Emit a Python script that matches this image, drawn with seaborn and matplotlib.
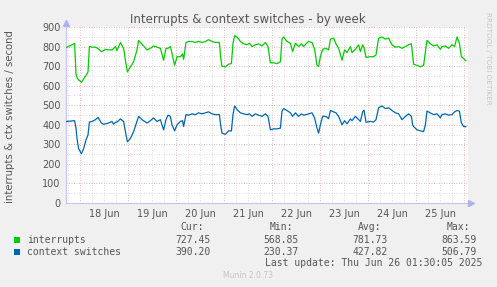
import numpy as np
import pandas as pd
import matplotlib
matplotlib.use("Agg")
import matplotlib.pyplot as plt
from matplotlib.patches import Rectangle
import seaborn as sns

# ---- data (hours offset from 2025-06-18 00:00) ----
hours = [-6.8, -2.7, -2.0, -1.5, -0.7, 0.7, 1.8, 3.0, 4.0, 4.7, 6.0, 7.7, 9.0, 10.7, 11.8, 12.7,
         14.3, 16.0, 16.8, 17.7, 18.5, 20.2, 21.8, 22.7, 23.7, 25.2, 26.8, 28.5, 29.3, 31.0, 33.5,
         35.2, 36.8, 38.5, 40.2, 41.8, 43.0,
         44.0, 45.2, 46.0, 47.3, 48.5, 50.2, 51.3, 51.8, 53.0, 54.3, 56.0, 57.7, 59.3, 61.0, 62.7,
         64.3, 66.0, 67.7, 69.7, 70.3, 71.0, 72.7, 74.3, 75.7, 76.5, 77.3, 78.5, 80.2, 81.8, 83.5,
         84.7, 86.0, 87.7, 89.3, 91.0, 92.7,
         94.0, 95.2, 96.8, 98.5, 100.2, 101.0, 101.8, 103.5, 105.2, 106.3, 107.7, 109.3, 110.7,
         111.8, 113.0, 114.3, 116.0, 117.3, 118.5, 119.3, 120.2, 121.3, 123.0, 124.3, 125.2, 126.8,
         128.0, 129.3, 131.0, 132.3, 133.5, 135.2, 136.0, 137.7, 139.3, 140.2, 141.3, 142.0,
         143.0, 145.2, 146.8, 148.0, 149.3, 151.0, 152.7, 154.3, 156.0, 157.7, 159.3, 161.0, 162.7,
         164.3, 165.7, 166.3, 166.8, 168.5, 170.2, 171.8, 172.7, 173.5, 175.2, 176.8, 178.5, 180.2,
         181.0, 182.7, 184.3, 186.0, 187.3, 188.5, 189.7, 190.7, 191.8, 193.0]

interrupts = [795, 816, 661, 640, 630, 617, 635, 652, 670, 800, 797, 797, 790, 774, 779, 786,
              783, 783, 790, 800, 779, 821, 791, 730, 670, 696, 722, 783, 831, 812, 783,
              791, 803, 797, 791, 730, 791,
              791, 800, 765, 704, 748, 748, 762, 734, 821, 826, 826, 821, 826, 821, 826,
              835, 826, 821, 821, 748, 699, 696, 710, 713, 817, 856, 849, 826, 814, 809,
              817, 800, 809, 814, 803, 821,
              800, 717, 717, 713, 722, 838, 849, 826, 817, 774, 817, 800, 814,
              800, 814, 826, 821, 786, 704, 699, 748, 786, 791, 783, 838, 843,
              814, 791, 730, 783, 769, 800, 769, 786, 809, 774, 809, 795,
              745, 748, 748, 757, 843, 849, 838, 843, 809, 797, 800, 791, 800,
              809, 814, 757, 710, 704, 696, 704, 774, 831, 814, 803, 809, 786,
              800, 803, 791, 809, 800, 849, 817, 748, 739, 727]

context_switches = [417, 421, 383, 330, 278, 252, 278, 322, 348, 414, 417, 426, 438, 409, 403, 405,
                    409, 417, 403, 412, 414, 430, 417, 365, 313, 330, 365, 417, 443, 426, 409,
                    421, 435, 417, 426, 374, 426,
                    449, 443, 400, 369, 400, 417, 421, 391, 452, 449, 456, 452, 461, 456, 461,
                    466, 456, 452, 452, 400, 357, 351, 369, 369, 452, 496, 478, 461, 456, 452,
                    456, 443, 456, 449, 443, 456,
                    443, 374, 379, 379, 383, 470, 483, 473, 461, 443, 461, 443, 456,
                    449, 452, 456, 461, 435, 383, 357, 400, 443, 443, 431, 473, 466,
                    461, 443, 400, 421, 405, 430, 421, 443, 426, 417, 466, 475,
                    413, 417, 414, 426, 487, 496, 483, 487, 473, 461, 456, 426, 443,
                    456, 443, 400, 391, 374, 369, 365, 400, 470, 461, 452, 456, 435,
                    452, 456, 449, 452, 466, 473, 470, 409, 391, 390]

series_names = ["interrupts", "context switches"]
series_colors = ["#00CC00", "#0066B3"]
stat_headers = ["Cur:", "Min:", "Avg:", "Max:"]
stats_interrupts = ["727.45", "568.85", "781.73", "863.59"]
stats_ctx = ["390.20", "230.37", "427.82", "506.79"]
day_labels = ["18 Jun", "19 Jun", "20 Jun", "21 Jun", "22 Jun", "23 Jun", "24 Jun", "25 Jun"]
yticks = [0, 100, 200, 300, 400, 500, 600, 700, 800, 900]

title = "Interrupts & context switches - by week"
ylabel = "interrupts & ctx switches / second"
last_update = "Last update: Thu Jun 26 01:30:05 2025"

# ---- figure ----
sns.set_style("white")
plt.rcParams['font.family'] = ['DejaVu Sans']

W, H = 497, 287
fig = plt.figure(figsize=(W / 100, H / 100), dpi=100, facecolor='#F0F0F0')
ax = fig.add_axes([66 / W, 1 - 203 / H, 402 / W, 176 / H])
ax.set_facecolor('white')

base = pd.Timestamp('2025-06-18 00:00')
times = base + pd.to_timedelta(hours, unit='h')
df = pd.DataFrame({
    'time': list(times) * 2,
    'value': interrupts + context_switches,
    'series': [series_names[0]] * len(hours) + [series_names[1]] * len(hours),
})
sns.lineplot(data=df, x='time', y='value', hue='series',
             palette=dict(zip(series_names, series_colors)),
             linewidth=0.9, legend=False, ax=ax, zorder=3)

x0 = base + pd.Timedelta(hours=-7)
x1 = base + pd.Timedelta(hours=194)
ax.set_xlim(x0, x1)
ax.set_ylim(0, 900)

red = '#EBA3A3'
grey = '#D2D2D2'
dot = (0, (1, 2))
for v in range(50, 901, 50):
    ax.axhline(v, color=red if v % 100 == 0 else grey, lw=0.6, ls=dot, zorder=1)
for t in pd.date_range('2025-06-17 18:00', '2025-06-26 00:00', freq='6h'):
    ax.axvline(t, color=red if t.hour == 0 else grey, lw=0.6, ls=dot, zorder=1)

for s in ['top', 'right']:
    ax.spines[s].set_visible(False)
for s in ['left', 'bottom']:
    ax.spines[s].set_color('#C4C4F2')
    ax.spines[s].set_linewidth(0.8)

ax.set_yticks(yticks)
ax.set_yticklabels([str(v) for v in yticks])
noons = [base + pd.Timedelta(hours=24 * i + 12) for i in range(len(day_labels))]
ax.set_xticks(noons)
ax.set_xticklabels(day_labels)
ax.tick_params(axis='both', length=0, labelsize=7, colors='#555555')
ax.tick_params(axis='x', pad=4)
ax.tick_params(axis='y', pad=4)
ax.set_xlabel('')
ax.set_ylabel('')

# axis arrows
ax.plot([0], [1 + 4 / 176], marker='^', ms=4, color='#B0B0F5', transform=ax.transAxes,
        clip_on=False, zorder=5)
ax.plot([1 + 3 / 402], [0], marker='>', ms=4, color='#B0B0F5', transform=ax.transAxes,
        clip_on=False, zorder=5)

# texts
fig.text(248 / W, 1 - 19 / H, title, ha='center', va='center', fontsize=8.5, color='#555555')
fig.text(10 / W, 1 - 117 / H, ylabel, ha='center', va='center', rotation=90,
         fontsize=7.3, color='#555555')
fig.text(488 / W, 1 - 58 / H, "RRDTOOL / TOBI OETIKER", ha='center', va='center',
         rotation=270, fontsize=5.2, color='#C8C8C8')

mono = 'DejaVu Sans Mono'
hdr_x = [204, 293, 381, 470]
val_x = [211, 299, 388, 477]
for hx, h in zip(hdr_x, stat_headers):
    fig.text(hx / W, 1 - 227 / H, h, ha='right', va='center', family=mono, fontsize=7,
             color='#555555')
rows = [(240, stats_interrupts), (252, stats_ctx)]
for (yy, vals), name, col in zip(rows, series_names, series_colors):
    fig.patches.append(Rectangle((14 / W, 1 - (yy + 3) / H), 6 / W, 6 / H,
                                 transform=fig.transFigure, facecolor=col, edgecolor='none'))
    fig.text(27 / W, 1 - yy / H, name, ha='left', va='center', family=mono, fontsize=7,
             color='#555555')
    for vx, v in zip(val_x, vals):
        fig.text(vx / W, 1 - yy / H, v, ha='right', va='center', family=mono, fontsize=7,
                 color='#555555')
fig.text(482 / W, 1 - 263 / H, last_update, ha='right', va='center', family=mono,
         fontsize=7, color='#555555')
fig.text(248 / W, 1 - 276 / H, "Munin 2.0.73", ha='center', va='center', fontsize=5.5,
         color='#C4C4C4')

fig.savefig('out.png', dpi=100, facecolor=fig.get_facecolor())
